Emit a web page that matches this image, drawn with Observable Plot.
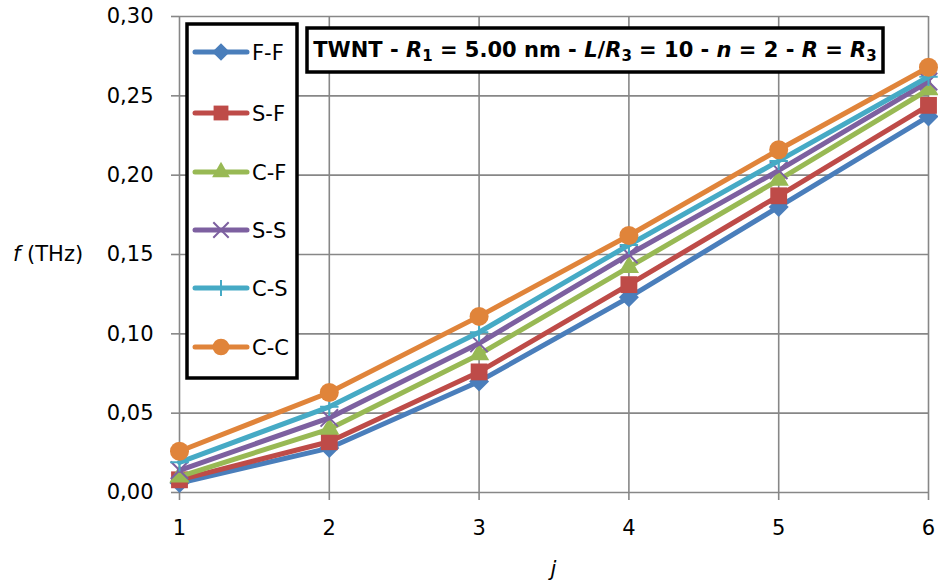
<!DOCTYPE html>
<html>
<head>
<meta charset="utf-8">
<script src="https://cdn.jsdelivr.net/npm/d3@7"></script>
<script src="https://cdn.jsdelivr.net/npm/@observablehq/plot@0.6"></script>
<style>
  html, body { margin: 0; padding: 0; background: #fff; }
  #chart svg { display: block; }
</style>
</head>
<body>
<div id="chart"></div>
<script>
// ---- data ----
const jValues = [1, 2, 3, 4, 5, 6];
const seriesNames = ["F-F", "S-F", "C-F", "S-S", "C-S", "C-C"];
const ffValues = [0.006, 0.028, 0.070, 0.123, 0.180, 0.237];
const sfValues = [0.008, 0.032, 0.076, 0.131, 0.187, 0.244];
const cfValues = [0.010, 0.040, 0.087, 0.142, 0.197, 0.254];
const ssValues = [0.014, 0.047, 0.094, 0.150, 0.203, 0.259];
const csValues = [0.019, 0.054, 0.101, 0.156, 0.209, 0.262];
const ccValues = [0.026, 0.063, 0.111, 0.162, 0.216, 0.268];
const yTicks = [0, 0.05, 0.10, 0.15, 0.20, 0.25, 0.30];

// ---- styles ----
const seriesValues = [ffValues, sfValues, cfValues, ssValues, csValues, ccValues];
const colors = ["#4A7EBB", "#BE4B48", "#98B954", "#7D60A0", "#46AAC5", "#E0843A"];
const symbols = ["diamond2", "square", "triangle", "times", "plus", "circle"];
const filled = [true, true, true, false, false, true];
const radii = [9, 9.5, 7.5, 8, 6, 9.5];
const gridColor = "#878787";
const FONT = "DejaVu Sans";

const rows = [];
seriesNames.forEach((name, i) => {
  jValues.forEach((j, k) => rows.push({series: name, idx: i, j, f: seriesValues[i][k]}));
});

const marks = [
  Plot.ruleX(jValues, {x: d => d, y1: 0, y2: 0.30, stroke: gridColor, strokeWidth: 1.6}),
  Plot.ruleY(yTicks, {y: d => d, x1: 1, x2: 6, stroke: gridColor, strokeWidth: 1.6}),
  Plot.axisY({ticks: yTicks, tickSize: 8, tickPadding: 18, tickFormat: d => d3.format(".2f")(d).replace(".", ","), stroke: gridColor, strokeWidth: 1.6, label: null, fill: "#000"}),
  Plot.axisX({ticks: jValues, tickSize: 8, tickPadding: 20, tickFormat: d => String(d), stroke: gridColor, strokeWidth: 1.6, label: null, fill: "#000"})
];
seriesNames.forEach((name, i) => {
  const data = rows.filter(r => r.idx === i);
  marks.push(Plot.line(data, {x: "j", y: "f", stroke: colors[i], strokeWidth: 5, strokeLinejoin: "round", strokeLinecap: "round"}));
  marks.push(Plot.dot(data, filled[i]
    ? {x: "j", y: "f", symbol: () => symbols[i], r: radii[i], fill: colors[i], stroke: "none"}
    : {x: "j", y: "f", symbol: () => symbols[i], r: radii[i], fill: "none", stroke: colors[i], strokeWidth: 2}));
});

const plot = Plot.plot({
  width: 938,
  height: 584,
  marginLeft: 179,
  marginRight: 10,
  marginTop: 16,
  marginBottom: 92,
  style: {fontFamily: FONT, fontSize: "21px", background: "#fff", color: "#000"},
  x: {domain: [1, 6], type: "linear"},
  y: {domain: [0, 0.30], type: "linear"},
  symbol: {type: "identity"},
  marks
});
document.getElementById("chart").appendChild(plot);

// ---- annotations: axis labels, legend, title box ----
const svg = d3.select(plot);
const xS = plot.scale("x"), yS = plot.scale("y");
const xMid = (xS.apply(1) + xS.apply(6)) / 2;

const yl = svg.append("text").attr("x", 13).attr("y", yS.apply(0.15)).attr("dy", "0.35em")
  .attr("text-anchor", "start")
  .attr("font-family", FONT).attr("font-size", 21).attr("fill", "#000");
yl.append("tspan").attr("font-style", "italic").text("f");
yl.append("tspan").text(" (THz)");

svg.append("text").attr("x", xMid).attr("y", 576).attr("text-anchor", "middle")
  .attr("font-family", FONT).attr("font-size", 21).attr("font-style", "italic").attr("fill", "#000").text("j");

// legend
const lg = svg.append("g");
lg.append("rect").attr("x", 187).attr("y", 24).attr("width", 110).attr("height", 354)
  .attr("fill", "#fff").attr("stroke", "#000").attr("stroke-width", 3.5);
const symMap = {diamond2: d3.symbolDiamond2, square: d3.symbolSquare, triangle: d3.symbolTriangle,
  times: d3.symbolTimes, plus: d3.symbolPlus, circle: d3.symbolCircle};
const legendY = [52, 113, 172, 230, 288, 347];
seriesNames.forEach((name, i) => {
  const yy = legendY[i];
  lg.append("line").attr("x1", 195).attr("x2", 247).attr("y1", yy).attr("y2", yy)
    .attr("stroke", colors[i]).attr("stroke-width", 5).attr("stroke-linecap", "round");
  const rr = radii[i] * 0.88;
  const p = lg.append("path").attr("transform", `translate(221,${yy})`)
    .attr("d", d3.symbol(symMap[symbols[i]], Math.PI * rr * rr)());
  if (filled[i]) p.attr("fill", colors[i]);
  else p.attr("fill", "none").attr("stroke", colors[i]).attr("stroke-width", 2);
  lg.append("text").attr("x", 252).attr("y", yy).attr("dy", "0.36em").attr("text-anchor", "start")
    .attr("font-family", FONT).attr("font-size", 21).attr("fill", "#000").text(name);
});

// title box
const tg = svg.append("g");
tg.append("rect").attr("x", 307).attr("y", 28).attr("width", 576).attr("height", 44)
  .attr("fill", "#fff").attr("stroke", "#000").attr("stroke-width", 3.5);
const tt = tg.append("text").attr("x", 595).attr("y", 57).attr("text-anchor", "middle")
  .attr("font-family", FONT).attr("font-size", 21).attr("font-weight", "bold").attr("fill", "#000");
const parts = [
  ["TWNT - ", null], ["R", "i"], ["1", "sub"], [" = 5.00 nm - ", null], ["L", "i"], ["/", null],
  ["R", "i"], ["3", "sub"], [" = 10 - ", null], ["n", "i"], [" = 2 - ", null], ["R", "i"],
  [" = ", null], ["R", "i"], ["3", "sub"]
];
parts.forEach(([s, k]) => {
  const ts = tt.append("tspan").text(s);
  if (k === "i") ts.attr("font-style", "italic");
  if (k === "sub") ts.attr("font-size", 15).attr("baseline-shift", "-25%");
});
</script>
</body>
</html>
